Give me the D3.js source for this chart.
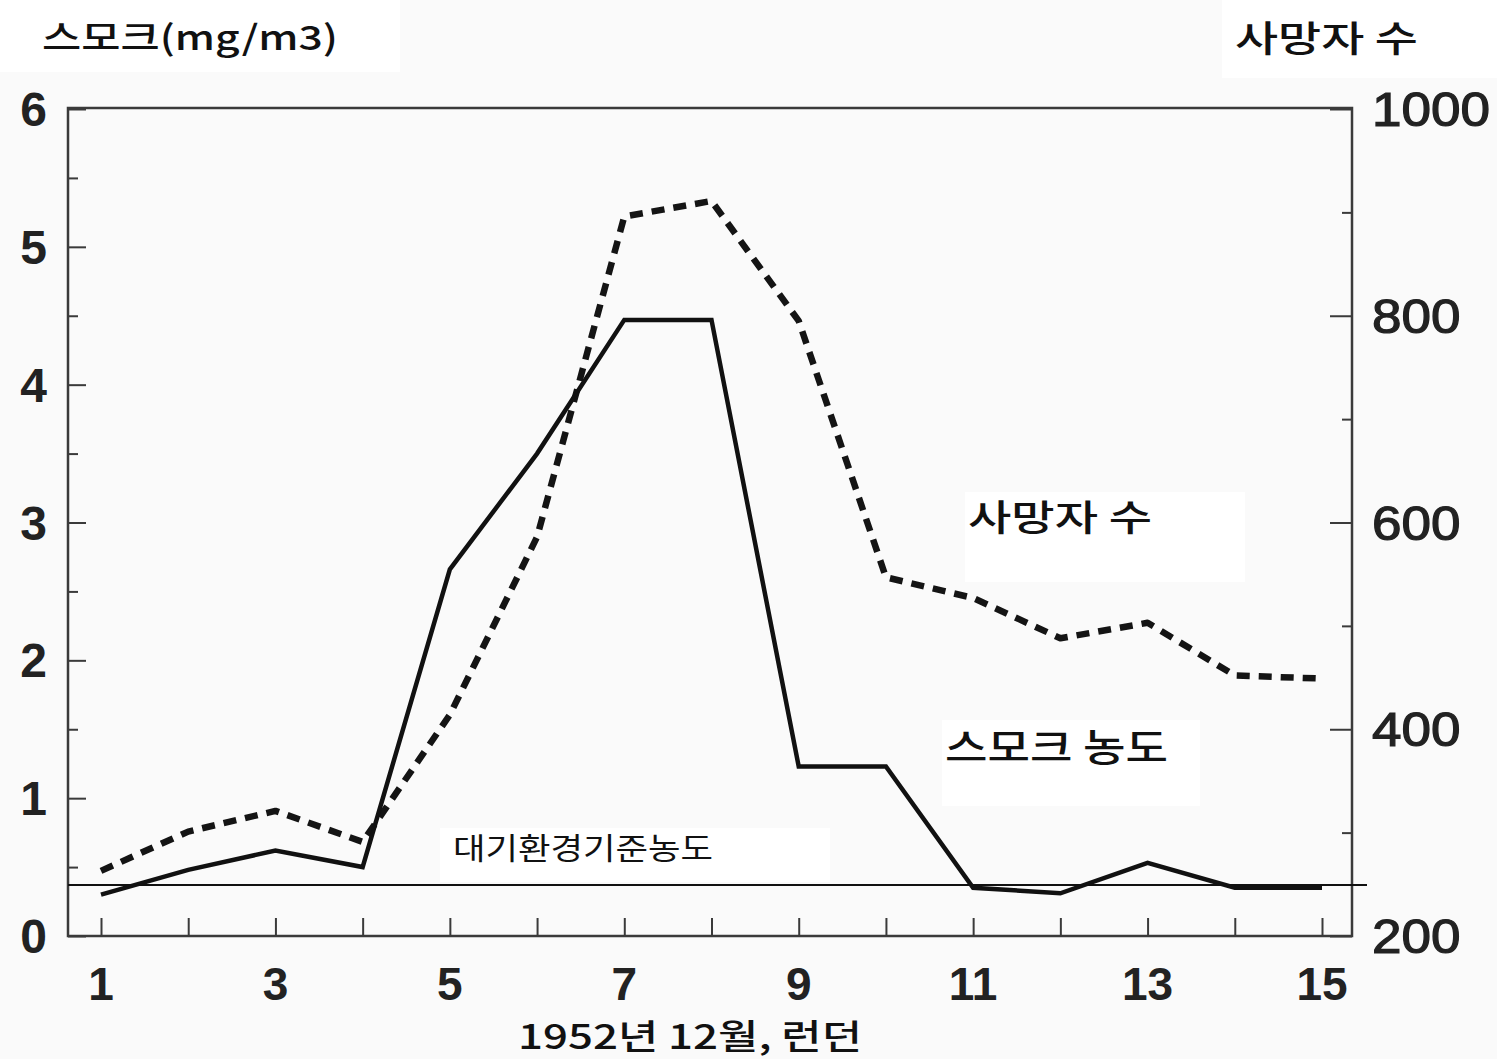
<!DOCTYPE html>
<html>
<head>
<meta charset="utf-8">
<script src="https://cdn.jsdelivr.net/npm/d3@7"></script>
<style>
  html, body { margin: 0; padding: 0; background: #fafafa; }
  svg { display: block; }
</style>
</head>
<body>
<svg id="chart" width="1497" height="1059"></svg>
<script>
// ---- data ----
const days = [1,2,3,4,5,6,7,8,9,10,11,12,13,14,15];
const smoke = [0.30,0.48,0.62,0.50,2.66,3.50,4.47,4.47,1.23,1.23,0.35,0.31,0.53,0.35,0.35];
const deaths = [263,301,321,291,414,586,896,911,795,547,527,488,503,452,449];
const standardSmoke = 0.37;
const dayTicks = [1,3,5,7,9,11,13,15];
const leftTicks = [0,1,2,3,4,5,6];
const rightTicks = [200,400,600,800,1000];

const svg = d3.select("#chart");

const x = d3.scaleLinear().domain([1,15]).range([101,1322]);
const yL = d3.scaleLinear().domain([0,6]).range([936,109]);
const yR = d3.scaleLinear().domain([200,1000]).range([936,109]);

const pLeft = 68, pRight = 1352, pTop = 108, pBottom = 936;

// white label boxes
const boxes = [
  [0,0,400,72],[1222,0,275,78],
  [965,492,280,90],[942,720,258,86],[440,828,390,54]
];
svg.selectAll("rect.box").data(boxes).enter().append("rect")
  .attr("x", d=>d[0]).attr("y", d=>d[1]).attr("width", d=>d[2]).attr("height", d=>d[3])
  .attr("fill", "#ffffff");

const axisColor = "#3a3a3a";

// frame
svg.append("rect").attr("x", pLeft).attr("y", pTop).attr("width", pRight-pLeft).attr("height", pBottom-pTop)
  .attr("fill", "none").attr("stroke", axisColor).attr("stroke-width", 2.5);

// left axis ticks (inward)
const gL = svg.append("g").attr("transform", `translate(${pLeft},0)`)
  .call(d3.axisRight(yL).tickValues(d3.range(0,6.01,0.5)).tickSize(0).tickFormat(""));
gL.select(".domain").remove();
gL.selectAll(".tick line").attr("x2", d => Number.isInteger(d) ? 18 : 10)
  .attr("stroke", axisColor).attr("stroke-width", 2);

// right axis ticks (inward)
const gR = svg.append("g").attr("transform", `translate(${pRight},0)`)
  .call(d3.axisLeft(yR).tickValues(d3.range(200,1001,100)).tickSize(0).tickFormat(""));
gR.select(".domain").remove();
gR.selectAll(".tick line").attr("x2", d => d % 200 === 0 ? -22 : -10)
  .attr("stroke", axisColor).attr("stroke-width", 2);

// bottom axis ticks (upward)
const gB = svg.append("g").attr("transform", `translate(0,${pBottom})`)
  .call(d3.axisTop(x).tickValues(days).tickSize(18).tickFormat(""));
gB.select(".domain").remove();
gB.selectAll(".tick line").attr("stroke", axisColor).attr("stroke-width", 2);

// tick labels
const numFont = "'Liberation Sans', Arial, sans-serif";
svg.append("g").selectAll("text").data(leftTicks).enter().append("text")
  .attr("x", 47).attr("y", d => yL(d) + 17)
  .attr("text-anchor", "end").attr("font-family", numFont).attr("font-size", 48)
  .attr("font-weight", "bold").attr("fill", "#222").text(d => d);

svg.append("g").selectAll("text").data(rightTicks).enter().append("text")
  .attr("x", 1372).attr("y", d => yR(d) + 17)
  .attr("text-anchor", "start").attr("font-family", numFont).attr("font-size", 48)
  .attr("textLength", d => String(d).length * 29.5).attr("lengthAdjust", "spacingAndGlyphs")
  .attr("fill", "#222").attr("stroke", "#222").attr("stroke-width", 1.2).text(d => d);

svg.append("g").selectAll("text").data(dayTicks).enter().append("text")
  .attr("x", d => x(d)).attr("y", 1000)
  .attr("text-anchor", "middle").attr("font-family", numFont).attr("font-size", 46)
  .attr("font-weight", "bold").attr("fill", "#222").text(d => d);

// standard line
svg.append("line")
  .attr("x1", pLeft).attr("x2", 1367)
  .attr("y1", yL(standardSmoke)).attr("y2", yL(standardSmoke))
  .attr("stroke", "#111").attr("stroke-width", 2);

// deaths (dashed)
const lineD = d3.line().x((d,i)=>x(days[i])).y(d=>yR(d));
svg.append("path").datum(deaths)
  .attr("d", lineD).attr("fill", "none")
  .attr("stroke", "#141414").attr("stroke-width", 6.5)
  .attr("stroke-dasharray", "13,9").attr("stroke-linejoin", "round");

// smoke (solid)
const lineS = d3.line().x((d,i)=>x(days[i])).y(d=>yL(d));
svg.append("path").datum(smoke)
  .attr("d", lineS).attr("fill", "none")
  .attr("stroke", "#111").attr("stroke-width", 4.5).attr("stroke-linejoin", "miter");

// texts
const krFont = "'Noto Sans CJK KR', 'Noto Sans', sans-serif";
function label(txt, x0, yb, size, len, weight) {
  svg.append("text").attr("x", x0).attr("y", yb)
    .attr("font-family", krFont).attr("font-size", size)
    .attr("font-weight", weight || "normal").attr("fill", "#111")
    .attr("textLength", len).attr("lengthAdjust", "spacingAndGlyphs")
    .text(txt);
}
label("스모크(mg/m3)", 42, 50, 34, 296, "500");
label("사망자 수", 1235, 52, 36, 183, "500");
label("사망자 수", 968, 531, 36, 184, "500");
label("스모크 농도", 945, 761, 38, 223, "500");
label("대기환경기준농도", 453, 859, 30, 260, "normal");
label("1952년 12월, 런던", 518, 1049, 34, 344, "500");
</script>
</body>
</html>
